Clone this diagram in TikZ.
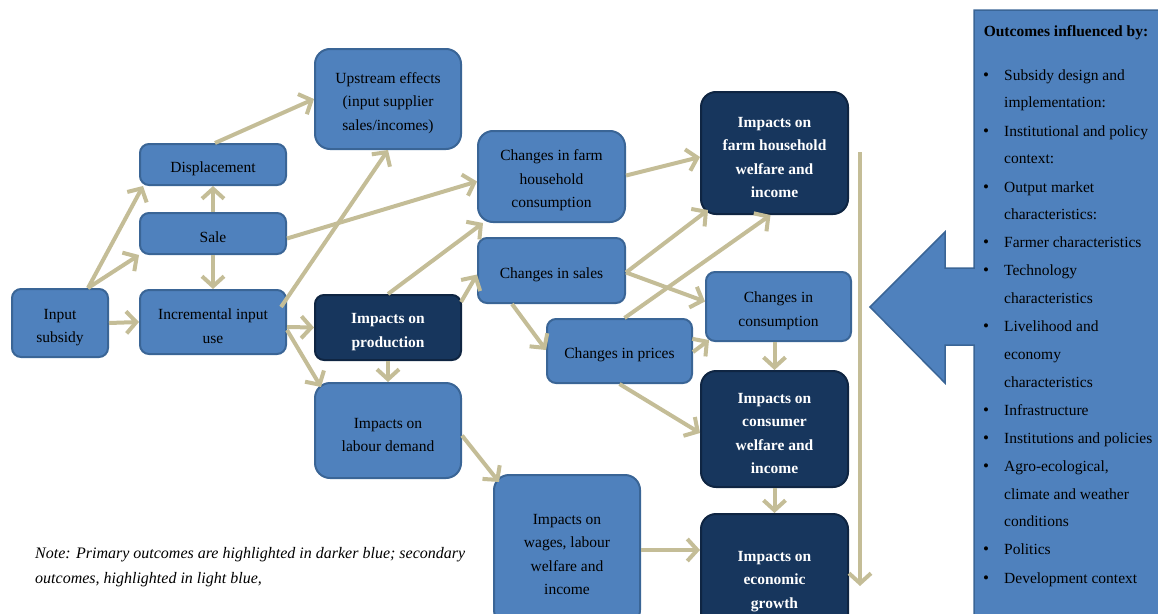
\documentclass[tikz,border=0pt]{standalone}
\usepackage{fontspec}
\setmainfont{Liberation Serif}
\usetikzlibrary{arrows.meta,calc}
\definecolor{lb}{HTML}{4F81BD}
\definecolor{lbd}{HTML}{3A6596}
\definecolor{db}{HTML}{17365D}
\definecolor{dbd}{HTML}{0F2542}
\definecolor{tanc}{HTML}{C4BD97}
\newcommand\bs{\rule{0pt}{19pt}}
\begin{document}
\begin{tikzpicture}[x=1pt,y=-1pt,
  box/.style={draw=lbd, line width=2pt, fill=lb, rounded corners=9pt, align=center,
    font=\fontsize{15.5}{23.5}\selectfont, inner sep=0pt, text=black},
  bigbox/.style={box, rounded corners=15pt},
  dbox/.style={box, rounded corners=15pt, draw=dbd, fill=db, text=white,
    font=\fontsize{15.5}{23.5}\selectfont\bfseries},
  arr/.style={draw=tanc, line width=4pt, -{Straight Barb[length=10pt,width=22pt,line width=4pt]}},
  ptxt/.style={anchor=base west, inner sep=0pt, font=\fontsize{15.5}{18}\selectfont},
  bul/.style={anchor=base, inner sep=0pt, font=\fontsize{17}{18}\selectfont}
]
\useasboundingbox (0,0) rectangle (1158,613);

% right panel with block arrow
\path[fill=lb, draw=lbd, line width=1.5pt]
  (1175,10) -- (974,10) -- (974,268) -- (945,268) -- (945,232) -- (870,307)
  -- (945,383) -- (945,345) -- (974,345) -- (974,640) -- (1175,640);

\node[anchor=base, inner sep=0pt, font=\fontsize{15.5}{18}\selectfont\bfseries] (ptitle) at (1066,36) {Outcomes influenced by:};
\foreach \n/\y/\b/\t in {
  p1/80/1/Subsidy design and,
  p2/107/0/implementation:,
  p3/136/1/Institutional and policy,
  p4/163/0/context:,
  p5/192/1/Output market,
  p6/219/0/characteristics:,
  p7/247/1/Farmer characteristics,
  p8/275/1/Technology,
  p9/303/0/characteristics,
  p10/331/1/Livelihood and,
  p11/359/0/economy,
  p12/387/0/characteristics,
  p13/415/1/Infrastructure,
  p14/443/1/Institutions and policies,
  p15/471/1/{Agro-ecological,},
  p16/499/0/climate and weather,
  p17/526/0/conditions,
  p18/554/1/Politics,
  p19/583/1/Development context}{
  \node[ptxt] (\n) at (1004,\y) {\t};
  \ifnum\b=1 \node[bul] (b\n) at (986,\y) {\textbullet}; \fi
}

% nodes
\node[box, minimum width=96, minimum height=68] (inp) at (60,323) {\bs Input\\subsidy};
\node[box, minimum width=146, minimum height=41] (disp) at (213,164.5) {\bs Displacement};
\node[box, minimum width=146, minimum height=41] (sale) at (213,233.5) {\bs Sale};
\node[box, minimum width=146, minimum height=64] (incr) at (213,322) {\bs Incremental input\\use};
\node[bigbox, minimum width=146, minimum height=100] (up) at (388,99) {\bs Upstream effects\\(input supplier\\sales/incomes)};
\node[dbox, rounded corners=9pt, minimum width=146, minimum height=65] (prod) at (388,327.5) {\bs Impacts on\\production};
\node[bigbox, minimum width=146, minimum height=95] (lab) at (388,430.5) {\bs Impacts on\\labour demand};
\node[bigbox, minimum width=147, minimum height=91] (chfc) at (551.5,176.5) {\bs Changes in farm\\household\\consumption};
\node[box, minimum width=147, minimum height=65] (chs) at (551.5,270.5) {\bs Changes in sales};
\node[box, minimum width=145, minimum height=64] (chp) at (619.5,351) {\bs Changes in prices};
\node[dbox, minimum width=147, minimum height=122] (fhw) at (774.5,153) {\bs Impacts on\\farm household\\welfare and\\income};
\node[box, minimum width=145, minimum height=69] (chc) at (778.5,306.5) {\bs Changes in\\consumption};
\node[dbox, minimum width=147, minimum height=116] (cw) at (774.5,429) {\bs Impacts on\\consumer\\welfare and\\income};
\node[bigbox, minimum width=146, minimum height=150] (wag) at (567,550) {\bs Impacts on\\wages, labour\\welfare and\\income};
\node[dbox, minimum width=147, minimum height=126] (gro) at (774.5,577) {\bs Impacts on\\economic\\growth};

% note
\node[anchor=base west, inner sep=0pt, align=left, font=\fontsize{16}{25}\selectfont\itshape] (note) at (35,583)
  {Note: Primary outcomes are highlighted in darker blue; secondary\\outcomes, highlighted in light blue,};

% arrows
\coordinate (is) at ($(inp.north)+(28,0)$);
\draw[arr] (is) -- ($(disp.south west)+(4,0)$);
\draw[arr] (is) -- (sale.south west);
\draw[arr] (inp.east) -- (incr.west);
\draw[arr] (sale.north) -- (disp.south);
\draw[arr] (sale.south) -- (incr.north);
\draw[arr] ($(disp.north)+(2,0)$) -- (up.west);
\draw[arr] ($(incr.east)+(-6,-15)$) -- (up.south);
\draw[arr] ($(sale.east)+(0,5)$) -- ($(chfc.west)+(0,5)$);
\draw[arr] ($(incr.east)+(0,5)$) -- (prod.west);
\draw[arr] ($(incr.east)+(0,8)$) -- ($(lab.north west)+(7,5)$);
\draw[arr] (prod.north) -- ($(chfc.south west)+(6,0)$);
\draw[arr] ($(prod.north east)+(-1,8)$) -- ($(chs.west)+(0,4)$);
\draw[arr] (prod.south) -- (lab.north);
\draw[arr] ($(lab.east)+(0,5)$) -- ($(wag.north west)+(6,8)$);
\draw[arr] ($(chfc.east)+(0,-1)$) -- ($(fhw.west)+(0,4)$);
\draw[arr] ($(chs.east)+(0,2)$) -- ($(fhw.south west)+(8,-5)$);
\draw[arr] ($(chs.east)+(0,2)$) -- ($(chc.west)+(0,-5)$);
\draw[arr] ($(chs.south west)+(35,0)$) -- ($(chp.west)+(0,-1)$);
\draw[arr] ($(chp.north)+(5,0)$) -- ($(fhw.south)+(-4,0)$);
\draw[arr] ($(chp.east)+(0,1)$) -- ($(chc.south west)+(4,-2)$);
\draw[arr] ($(chp.south)+(0,0)$) -- ($(cw.west)+(0,4)$);
\draw[arr] (chc.south -| cw.north) -- (cw.north);
\draw[arr] (cw.south) -- (gro.north);
\draw[arr] (wag.east) -- (wag.east -| gro.west);
\coordinate (vl1) at (860,152);
\coordinate (vl2) at (860,586);
\draw[arr] (vl1) -- (vl2);
\end{tikzpicture}
\end{document}
